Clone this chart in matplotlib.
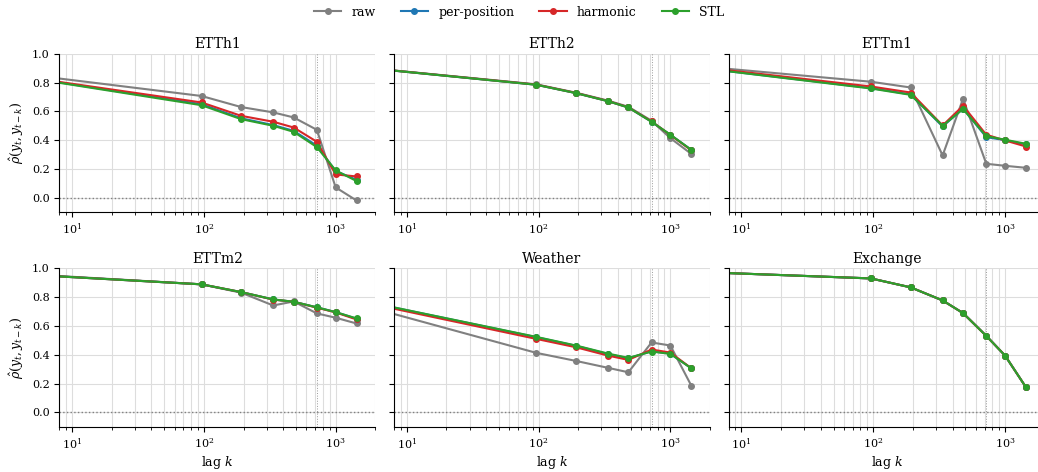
import matplotlib
matplotlib.use("Agg")
import matplotlib.pyplot as plt
import numpy as np

plt.rcParams["font.family"] = "DejaVu Serif"
plt.rcParams["mathtext.fontset"] = "dejavuserif"

lags = [1, 96, 192, 336, 480, 720, 1000, 1440]
datasets = ["ETTh1", "ETTh2", "ETTm1", "ETTm2", "Weather", "Exchange"]
methods = ["raw", "per-position", "harmonic", "STL"]
colors = ["gray", "tab:blue", "tab:red", "tab:green"]

# autocorrelation per dataset, one list per method (raw, per-position, harmonic, STL)
etth1 = [
    [0.930, 0.707, 0.630, 0.593, 0.558, 0.472, 0.072, -0.019],
    [0.928, 0.650, 0.552, 0.505, 0.465, 0.362, 0.185, 0.125],
    [0.924, 0.662, 0.569, 0.528, 0.488, 0.389, 0.162, 0.148],
    [0.929, 0.643, 0.546, 0.500, 0.458, 0.352, 0.190, 0.116],
]
etth2 = [
    [0.965, 0.788, 0.730, 0.675, 0.632, 0.535, 0.414, 0.305],
    [0.965, 0.785, 0.727, 0.671, 0.627, 0.528, 0.437, 0.333],
    [0.965, 0.786, 0.728, 0.672, 0.628, 0.530, 0.436, 0.330],
    [0.965, 0.785, 0.727, 0.671, 0.627, 0.528, 0.438, 0.333],
]
ettm1 = [
    [0.970, 0.806, 0.766, 0.294, 0.688, 0.236, 0.222, 0.208],
    [0.977, 0.762, 0.718, 0.495, 0.620, 0.421, 0.400, 0.370],
    [0.979, 0.773, 0.731, 0.502, 0.639, 0.438, 0.398, 0.356],
    [0.978, 0.759, 0.715, 0.500, 0.616, 0.428, 0.403, 0.375],
]
ettm2 = [
    [0.995, 0.889, 0.831, 0.742, 0.770, 0.687, 0.657, 0.617],
    [0.990, 0.889, 0.835, 0.784, 0.768, 0.729, 0.696, 0.650],
    [0.990, 0.889, 0.835, 0.783, 0.768, 0.727, 0.694, 0.645],
    [0.990, 0.889, 0.835, 0.784, 0.768, 0.729, 0.696, 0.652],
]
weather = [
    [0.909, 0.413, 0.357, 0.309, 0.278, 0.485, 0.464, 0.186],
    [0.900, 0.522, 0.462, 0.405, 0.375, 0.424, 0.407, 0.306],
    [0.895, 0.510, 0.452, 0.394, 0.364, 0.436, 0.415, 0.306],
    [0.900, 0.524, 0.464, 0.408, 0.378, 0.422, 0.406, 0.306],
]
exchange = [
    [0.998, 0.930, 0.868, 0.777, 0.689, 0.531, 0.394, 0.174],
    [0.998, 0.930, 0.868, 0.777, 0.689, 0.531, 0.394, 0.174],
    [0.998, 0.930, 0.868, 0.777, 0.689, 0.531, 0.394, 0.174],
    [0.998, 0.930, 0.868, 0.777, 0.689, 0.531, 0.394, 0.174],
]
all_data = [etth1, etth2, ettm1, ettm2, weather, exchange]
horizon = 720

fig, axes = plt.subplots(2, 3, figsize=(10.38, 4.72), dpi=100, sharey=True)
# the last column runs a little past the right edge, like in the original
fig.subplots_adjust(left=0.0571, right=1.0065, top=0.886, bottom=0.096,
                    wspace=0.059, hspace=0.355)

for i, ax in enumerate(axes.flat):
    ax.grid(True, which="both", axis="x", color="#dddddd", linewidth=0.8)
    ax.grid(True, which="major", axis="y", color="#dddddd", linewidth=0.8)
    ax.set_axisbelow(True)
    ax.axhline(0, color="gray", linestyle=":", linewidth=1.0)
    ax.axvline(horizon, color="gray", linestyle=":", linewidth=0.7, alpha=0.8)
    for name, col, vals in zip(methods, colors, all_data[i]):
        ax.plot(lags, vals, color=col, marker="o", markersize=4,
                linewidth=1.5, label=name)
    ax.set_xscale("log")
    ax.set_xlim(8, 2000)
    ax.set_ylim(-0.1, 1.0)
    ax.set_yticks([0.0, 0.2, 0.4, 0.6, 0.8, 1.0])
    ax.set_title(datasets[i], fontsize=10, pad=4)
    ax.tick_params(labelsize=8, direction="out")
    ax.tick_params(which="minor", length=2)
    for s in ["top", "right"]:
        ax.spines[s].set_visible(False)
    if i % 3 == 0:
        ax.set_ylabel(r"$\hat{\rho}(y_t, y_{t-k})$", fontsize=9)
    if i >= 3:
        ax.set_xlabel(r"lag $k$", fontsize=9, labelpad=2)

handles, labels = axes[0, 0].get_legend_handles_labels()
fig.legend(handles, labels, loc="upper center", bbox_to_anchor=(0.5, 1.012),
           ncol=4, frameon=False, fontsize=9, handlelength=2.2,
           columnspacing=2.0)

fig.savefig("out.png", dpi=100)
